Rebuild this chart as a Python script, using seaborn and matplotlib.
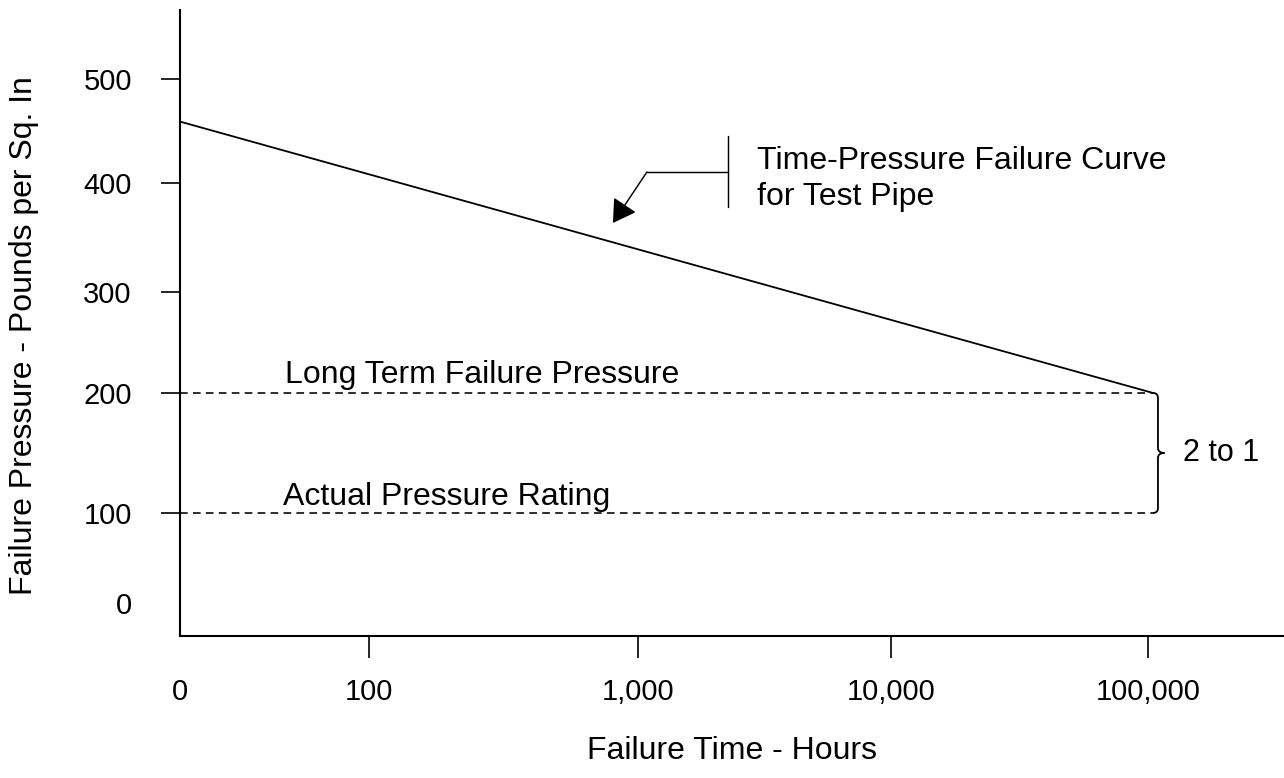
import numpy as np
import matplotlib
matplotlib.use("Agg")
import matplotlib.pyplot as plt
import seaborn as sns
from matplotlib.path import Path
from matplotlib.patches import PathPatch
from matplotlib.transforms import IdentityTransform

# ---------------- data ----------------
curve_hours = [19.83, 104600.0]       # failure time (hours); left end is the "0" origin
curve_psi = [459.0, 200.0]            # failure pressure (psi)
long_term_psi = 200.0
rating_psi = 100.0
x_tick_values = [100, 1000, 10000, 100000]
x_tick_labels = ["0", "100", "1,000", "10,000", "100,000"]
y_tick_values = [0, 100, 200, 300, 400, 500]
y_tick_labels = ["0", "100", "200", "300", "400", "500"]

# ---------------- style ----------------
sns.set_theme(style="ticks")
plt.rcParams['font.family'] = ['Liberation Sans', 'DejaVu Sans']
FS_TICK = 21
FS = 23
LW = 1.3

W, H = 1284, 778
fig = plt.figure(figsize=(W / 100, H / 100), dpi=100)
fig.patch.set_facecolor("white")
ax = fig.add_axes([180 / W, 142 / H, 1104 / W, 626 / H])
ax.set_facecolor("white")

# schematic (hand-drawn, slightly uneven) axes
_xl = np.array([0, 2, 3, 4, 5, 6], float)
_xp = np.array([-169, 369, 638, 891, 1148, 1405], float)
def _xfwd(v):
    v = np.asarray(v, float)
    lv = np.log10(np.clip(v, 1e-12, None))
    return np.interp(lv, _xl, _xp)
def _xinv(t):
    return 10 ** np.interp(t, _xp, _xl)

_yv = np.array([-100, 0, 100, 200, 300, 400, 500, 600], float)
_yp = -np.array([693, 603, 513, 393, 292, 183, 79, -25], float)
def _yfwd(v):
    return np.interp(v, _yv, _yp)
def _yinv(t):
    return np.interp(t, _yp, _yv)

ax.set_xscale("function", functions=(_xfwd, _xinv))
ax.set_yscale("function", functions=(_yfwd, _yinv))
ax.set_xlim(curve_hours[0], 338400)
ax.set_ylim(-36.7, 566.3)

# main curve
sns.lineplot(x=curve_hours, y=curve_psi, ax=ax, color="black", linewidth=LW,
             legend=False)

# dashed reference lines
for lvl in (long_term_psi, rating_psi):
    ax.plot([curve_hours[0], curve_hours[1]], [lvl, lvl], color="black",
            linewidth=1.15, dashes=(4.8, 3.3), solid_capstyle="butt")

# text labels
ax.text(48.7, 209.9, "Long Term Failure Pressure", fontsize=FS, va="baseline",
        ha="left", color="black")
ax.text(47.9, 106.7, "Actual Pressure Rating", fontsize=FS, va="baseline",
        ha="left", color="black")
ax.text(136800, 150, "2 to 1", fontsize=FS - 1, va="center", ha="left", color="black")
ax.text(2954, 403.8, "Time-Pressure Failure Curve\nfor Test Pipe", fontsize=FS,
        va="center", ha="left", color="black", linespacing=1.27)

# callout leader
ax.plot([1085, 2268], [410.6, 410.6], color="black", linewidth=LW * 0.8)
ax.plot([2268, 2268], [445.2, 378.0], color="black", linewidth=LW * 0.8)
ax.annotate("", xy=(807, 363.3), xytext=(1085, 410.6),
            arrowprops=dict(arrowstyle="-|>,head_length=0.5,head_width=0.3",
                            color="black", lw=LW * 0.8, mutation_scale=28,
                            shrinkA=0, shrinkB=0))

# brace between the two dashed lines
xb, yt = ax.transData.transform((curve_hours[1], long_term_psi))
_, yb = ax.transData.transform((curve_hours[1], rating_psi))
w, t, r = 5.0, 6.5, 5.0
ym = (yt + yb) / 2
verts = [(xb, yt), (xb + w, yt), (xb + w, yt - r),
         (xb + w, ym + r),
         (xb + w, ym), (xb + w + t, ym),
         (xb + w, ym), (xb + w, ym - r),
         (xb + w, yb + r),
         (xb + w, yb), (xb, yb)]
codes = [Path.MOVETO, Path.CURVE3, Path.CURVE3,
         Path.LINETO,
         Path.CURVE3, Path.CURVE3,
         Path.CURVE3, Path.CURVE3,
         Path.LINETO,
         Path.CURVE3, Path.CURVE3]
ax.add_patch(PathPatch(Path(verts, codes), facecolor="none", edgecolor="black",
                       linewidth=LW, transform=IdentityTransform(), clip_on=False))

# axes / ticks
ax.set_xticks([curve_hours[0]] + x_tick_values, labels=x_tick_labels)
ax.set_yticks(y_tick_values, labels=y_tick_labels)
ax.minorticks_off()
for s in ("top", "right"):
    ax.spines[s].set_visible(False)
for s in ("left", "bottom"):
    ax.spines[s].set_color("black")
    ax.spines[s].set_linewidth(1.5)
ax.tick_params(axis="y", direction="out", length=13.7, width=1.2, pad=21,
               labelsize=FS_TICK, colors="black")
ax.tick_params(axis="x", direction="out", length=15.6, width=1.2, pad=14.4,
               labelsize=FS_TICK, colors="black")
ax.xaxis.get_major_ticks()[0].tick1line.set_visible(False)
ax.yaxis.get_major_ticks()[0].tick1line.set_visible(False)
ax.grid(False)

ax.set_xlabel("Failure Time - Hours", fontsize=FS, color="black")
ax.set_ylabel("Failure Pressure - Pounds per Sq. In", fontsize=FS, color="black")
ax.xaxis.set_label_coords(0.5, -0.16)
ax.yaxis.set_label_coords(-0.128, 0.48)

fig.savefig("out.png", dpi=100, facecolor="white")
